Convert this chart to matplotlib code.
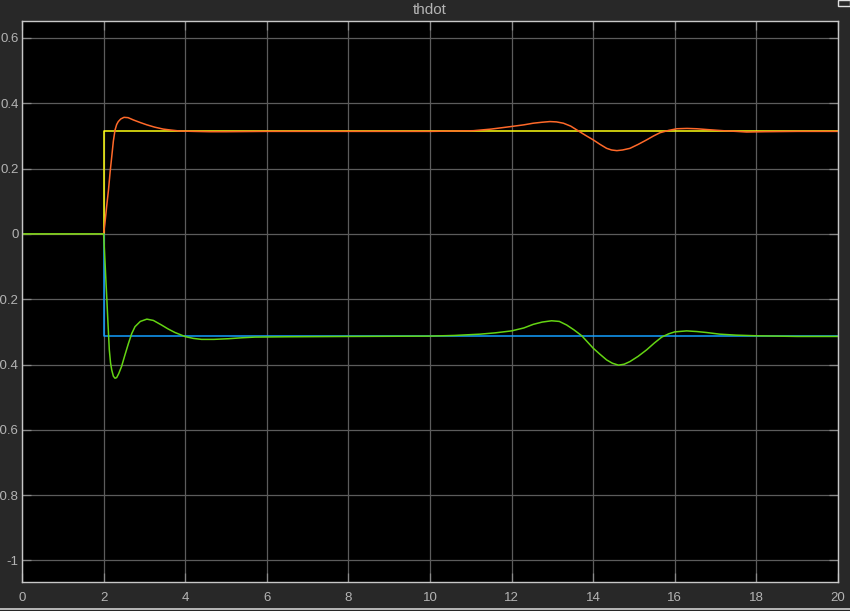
import numpy as np
import matplotlib
matplotlib.use("Agg")
import matplotlib.pyplot as plt
from matplotlib.lines import Line2D
from matplotlib.patches import Rectangle

plt.rcParams['font.family'] = ['Liberation Sans', 'DejaVu Sans']
plt.rcParams['axes.unicode_minus'] = False

# reference steps
t_step = [0, 2, 2, 20]
yellow_y = [0, 0, 0.314, 0.314]
blue_y = [0, 0, -0.314, -0.314]

# measured response (orange)
t_orange = [0, 2.0, 2.03, 2.08, 2.12, 2.16, 2.2, 2.24, 2.28, 2.32, 2.36, 2.42, 2.5, 2.6,
            2.73, 2.9, 3.06, 3.25, 3.46, 3.65, 3.87, 4.2, 4.6, 5, 6, 8, 10, 10.6, 11.06,
            11.5, 12.0, 12.3, 12.53, 12.75, 12.94, 13.1, 13.27, 13.45, 13.68, 13.85, 14.0,
            14.17, 14.33, 14.45, 14.58, 14.72, 14.9, 15.1, 15.31, 15.48, 15.64, 15.85,
            16.05, 16.3, 16.54, 16.85, 17.19, 17.5, 17.76, 18.2, 19, 20]
orange_y = [0, 0, 0.03, 0.09, 0.135, 0.19, 0.237, 0.285, 0.318, 0.335, 0.344, 0.352, 0.357,
            0.356, 0.349, 0.341, 0.334, 0.327, 0.321, 0.318, 0.315, 0.314, 0.313, 0.313,
            0.314, 0.314, 0.314, 0.315, 0.316, 0.321, 0.329, 0.334, 0.339, 0.342, 0.344,
            0.343, 0.339, 0.330, 0.312, 0.299, 0.288, 0.274, 0.262, 0.257, 0.255, 0.257,
            0.262, 0.274, 0.288, 0.300, 0.310, 0.317, 0.322, 0.323, 0.322, 0.319, 0.316,
            0.314, 0.312, 0.313, 0.314, 0.314]

# measured response (green)
t_green = [0, 2.0, 2.04, 2.08, 2.11, 2.14, 2.17, 2.2, 2.24, 2.28, 2.32, 2.37, 2.44, 2.52,
           2.61, 2.69, 2.77, 2.9, 3.06, 3.22, 3.42, 3.58, 3.75, 4.0, 4.2, 4.4, 4.7, 5.06,
           5.4, 5.71, 6.5, 8, 10, 10.6, 11.23, 11.6, 12.0, 12.3, 12.53, 12.75, 12.98, 13.17,
           13.35, 13.53, 13.72, 13.86, 14.0, 14.17, 14.33, 14.47, 14.62, 14.76, 14.9, 15.1,
           15.31, 15.5, 15.68, 15.85, 16.0, 16.29, 16.54, 16.78, 17.1, 17.5, 18, 19, 20]
green_y = [0, 0, -0.1, -0.202, -0.28, -0.355, -0.395, -0.417, -0.436, -0.442, -0.440,
           -0.428, -0.406, -0.372, -0.335, -0.305, -0.284, -0.268, -0.261, -0.265, -0.279,
           -0.291, -0.302, -0.3145, -0.320, -0.323, -0.323, -0.321, -0.318, -0.316, -0.315,
           -0.314, -0.313, -0.311, -0.307, -0.303, -0.297, -0.288, -0.277, -0.270, -0.266,
           -0.268, -0.279, -0.294, -0.312, -0.331, -0.350, -0.369, -0.386, -0.396, -0.402,
           -0.399, -0.391, -0.375, -0.355, -0.334, -0.316, -0.306, -0.300, -0.297, -0.299,
           -0.302, -0.307, -0.310, -0.312, -0.314, -0.314]

x_ticks = [0, 2, 4, 6, 8, 10, 12, 14, 16, 18, 20]
y_ticks = [-1, -0.8, -0.6, -0.4, -0.2, 0, 0.2, 0.4, 0.6]
y_labels = ['-1', '-0.8', '-0.6', '-0.4', '-0.2', '0', '0.2', '0.4', '0.6']

bg = '#282828'
fg = '#b4b4b4'

fig = plt.figure(figsize=(8.5, 6.11), dpi=100, facecolor=bg)
ax = fig.add_axes([22/850, 1-582/611, 816/850, 561/611])
ax.set_facecolor('black')

ax.plot(t_step, yellow_y, color=(1, 1, 0.067), lw=1.1)
ax.plot(t_step, blue_y, color=(0.075, 0.624, 1), lw=1.1)
ax.plot(t_orange, orange_y, color=(1, 0.412, 0.161), lw=1.1)
ax.plot(t_green, green_y, color=(0.392, 0.831, 0.075), lw=1.1)

ax.set_xlim(0, 20)
ax.set_ylim(-1.066, 0.652)
ax.set_xticks(x_ticks)
ax.set_yticks(y_ticks)
ax.set_yticklabels(y_labels)
ax.grid(True, color='#5c5c5c', lw=0.9)
ax.tick_params(direction='in', length=6.5, width=0.9, color='#8a8a8a',
               labelcolor=fg, labelsize=9.5, top=True, right=True)
ax.tick_params(axis='x', pad=7)
ax.tick_params(axis='y', pad=2.5)
for s in ax.spines.values():
    s.set_color('#c8c8c8')
    s.set_linewidth(1.0)

fig.text(430/850, 1-10/611, 'thdot', color=fg, fontsize=11, ha='center', va='center')

# bottom border line and small corner icon
fig.add_artist(Line2D([0, 1], [1-608.5/611, 1-608.5/611], color='#d0d0d0', lw=1.2,
                      transform=fig.transFigure))
fig.add_artist(Rectangle((838/850, 1-6/611), 12/850, 6/611, transform=fig.transFigure,
                         facecolor='none', edgecolor='#e0e0e0', lw=1))

fig.savefig('out.png', dpi=100, facecolor=bg)
